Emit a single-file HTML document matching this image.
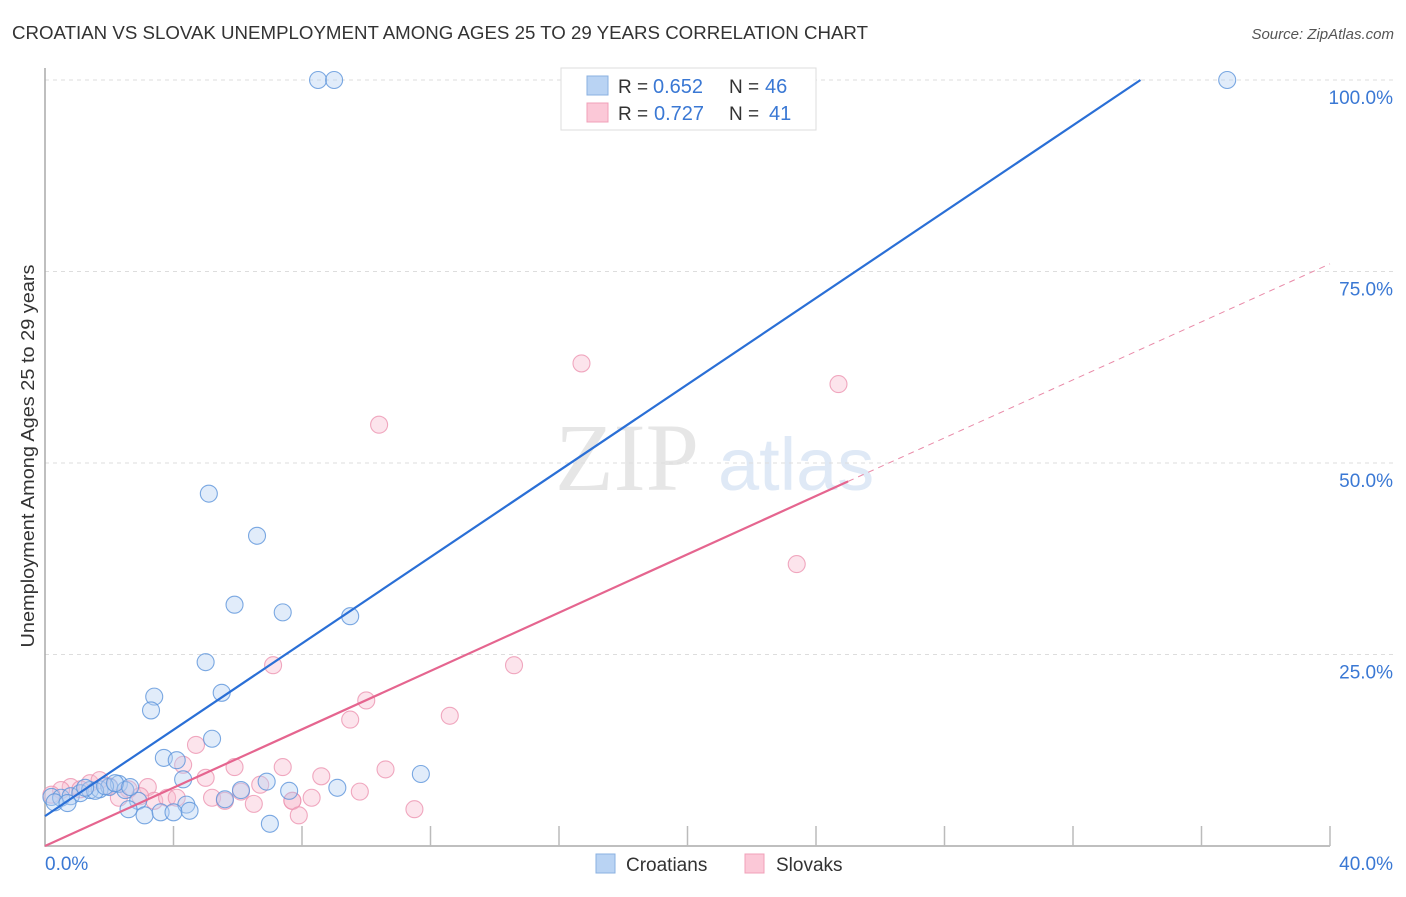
<!DOCTYPE html>
<html><head><meta charset="utf-8"><style>
body{margin:0;background:#fff;font-family:"Liberation Sans",sans-serif;}
svg text{font-family:"Liberation Sans",sans-serif;}
</style></head><body>
<svg id="chart" width="1406" height="892" viewBox="0 0 1406 892">
<text x="12" y="39" font-size="18" fill="#333" textLength="856" lengthAdjust="spacingAndGlyphs">CROATIAN VS SLOVAK UNEMPLOYMENT AMONG AGES 25 TO 29 YEARS CORRELATION CHART</text>
<text x="1394" y="39" font-size="15" fill="#555" font-style="italic" text-anchor="end">Source: ZipAtlas.com</text>
<g>
<text x="555" y="490" font-size="96" fill="#e6e6e6" style="font-family:'Liberation Serif',serif">ZIP</text>
<text x="718" y="490" font-size="74" fill="#dfe9f6">atlas</text>
</g>
<g id="grid"></g>
<g id="axes"></g>
<g id="points"></g>
<g id="lines"></g>
<text transform="translate(34,456) rotate(-90)" font-size="18" fill="#333" text-anchor="middle" textLength="383" lengthAdjust="spacingAndGlyphs">Unemployment Among Ages 25 to 29 years</text>
<text x="45" y="870" font-size="19" fill="#3a78d4">0.0%</text>
<text x="1393" y="870" font-size="19" fill="#3a78d4" text-anchor="end">40.0%</text>
<g>
<rect x="561" y="68" width="255" height="62" fill="#fff" stroke="#ddd"/>
<rect x="587" y="76" width="21" height="19" fill="#b9d3f3" stroke="#8ab0e0"/>
<rect x="587" y="103" width="21" height="19" fill="#fbc8d7" stroke="#f0a0b8"/>
<text x="618" y="93" font-size="19" fill="#333">R =</text><text x="653" y="93" font-size="20" fill="#3a78d4">0.652</text>
<text x="729" y="93" font-size="19" fill="#333">N =</text><text x="765" y="93" font-size="20" fill="#3a78d4">46</text>
<text x="618" y="120" font-size="19" fill="#333">R =</text><text x="654" y="120" font-size="20" fill="#3a78d4">0.727</text>
<text x="729" y="120" font-size="19" fill="#333">N =</text><text x="769" y="120" font-size="20" fill="#3a78d4">41</text>
</g>
<g>
<rect x="596" y="854" width="19" height="19" fill="#b9d3f3" stroke="#8ab0e0"/>
<text x="626" y="871" font-size="19" fill="#333">Croatians</text>
<rect x="745" y="854" width="19" height="19" fill="#fbc8d7" stroke="#f0a0b8"/>
<text x="776" y="871" font-size="19" fill="#333">Slovaks</text>
</g>
</svg>
<script>
const yTicks=[25,50,75,100];
const yTickLabels=["25.0%","50.0%","75.0%","100.0%"];
const xTicks=[4,8,12,16,20,24,28,32,36,40];
const croatX=[8.5,9.0,36.8,5.1,6.6,5.9,7.4,9.5,5.0,3.4,5.5,3.3,5.2,3.7,4.1,4.3,6.9,9.1,11.7,7.6,6.1,5.6,2.9,2.6,4.4,3.1,3.6,4.0,4.5,7.0,0.2,0.5,0.8,1.1,1.4,1.7,2.0,2.3,2.5,0.3,1.56,1.87,2.18,2.65,0.7,1.25];
const croatY=[100,100,100,46,40.5,31.5,30.5,30,24,19.5,20,17.7,14,11.5,11.2,8.7,8.4,7.6,9.4,7.2,7.3,6.1,5.9,4.8,5.4,4.0,4.4,4.4,4.6,2.9,6.4,6.3,6.5,6.9,7.3,7.4,7.7,8.1,7.3,5.7,7.2,7.8,8.2,7.7,5.6,7.6];
const slovX=[16.7,24.7,10.4,23.4,7.1,14.6,10.0,12.6,9.5,4.7,4.3,5.9,7.4,10.6,5.0,8.6,6.7,9.8,3.2,2.6,2.0,1.4,1.7,0.8,0.5,0.2,2.3,3.4,3.8,4.1,5.2,5.6,6.5,7.7,8.3,7.7,7.9,11.5,6.1,2.96,1.1];
const slovY=[63,60.3,55,36.8,23.6,23.6,19,17,16.5,13.2,10.6,10.3,10.3,10,8.9,9.1,8.0,7.1,7.7,7.4,7.8,8.2,8.6,7.7,7.3,6.7,6.3,5.9,6.3,6.3,6.3,5.9,5.5,5.9,6.3,5.9,4.0,4.8,7.1,6.5,7.4];
const blueLine=[[0,3.9],[34.1,100]];
const pinkSolid=[[0,0],[25,47.6]];
const pinkDash=[[25,47.6],[40,76]];
const NS="http://www.w3.org/2000/svg";
const X=v=>45+v*32.125, Y=v=>846-v*7.66;
function mk(t,a,p){const e=document.createElementNS(NS,t);for(const k in a)e.setAttribute(k,a[k]);p.appendChild(e);return e;}
const grid=document.getElementById('grid'),axes=document.getElementById('axes'),lines=document.getElementById('lines'),pts=document.getElementById('points');
yTicks.forEach((t,i)=>{
 const l=mk('line',{x1:45,x2:1394,y1:Y(t),y2:Y(t),stroke:'#ddd','stroke-dasharray':'4,4'},grid);
 
 
 const tx=mk('text',{x:1393,y:Y(t)+24,'font-size':19,fill:'#3a78d4','text-anchor':'end'},grid);
 tx.textContent=yTickLabels[i];
 
 
});
const ax=mk('path',{d:'M45 68 V846 H1330',stroke:'#aaa',fill:'none','stroke-width':1.5},axes);


xTicks.forEach(t=>{
 const l=mk('line',{x1:X(t),x2:X(t),y1:826,y2:846,stroke:'#bbb','stroke-width':1.5},axes);
 
 
});
function drawSeries(xs,ys,fill,stroke,name){
 xs.forEach((x,i)=>{
  const c=mk('circle',{cx:X(x),cy:Y(ys[i]),r:8.5,fill:fill,'fill-opacity':0.4,stroke:stroke,'stroke-opacity':0.8,'stroke-width':1.1},pts);
  
  
 });
}
drawSeries(slovX,slovY,'#f8bcd0','#ec93b0','slovak-point');
drawSeries(croatX,croatY,'#b4cff2','#5b93db','croatian-point');
const bl=mk('line',{x1:X(blueLine[0][0]),y1:Y(blueLine[0][1]),x2:X(blueLine[1][0]),y2:Y(blueLine[1][1]),stroke:'#2a6fd6','stroke-width':2.2},lines);


const ps=mk('line',{x1:X(pinkSolid[0][0]),y1:Y(pinkSolid[0][1]),x2:X(pinkSolid[1][0]),y2:Y(pinkSolid[1][1]),stroke:'#e5658f','stroke-width':2.2},lines);


const pd=mk('line',{x1:X(pinkDash[0][0]),y1:Y(pinkDash[0][1]),x2:X(pinkDash[1][0]),y2:Y(pinkDash[1][1]),stroke:'#e98aa8','stroke-width':1,'stroke-dasharray':'6,5'},lines);


</script>
</body></html>
